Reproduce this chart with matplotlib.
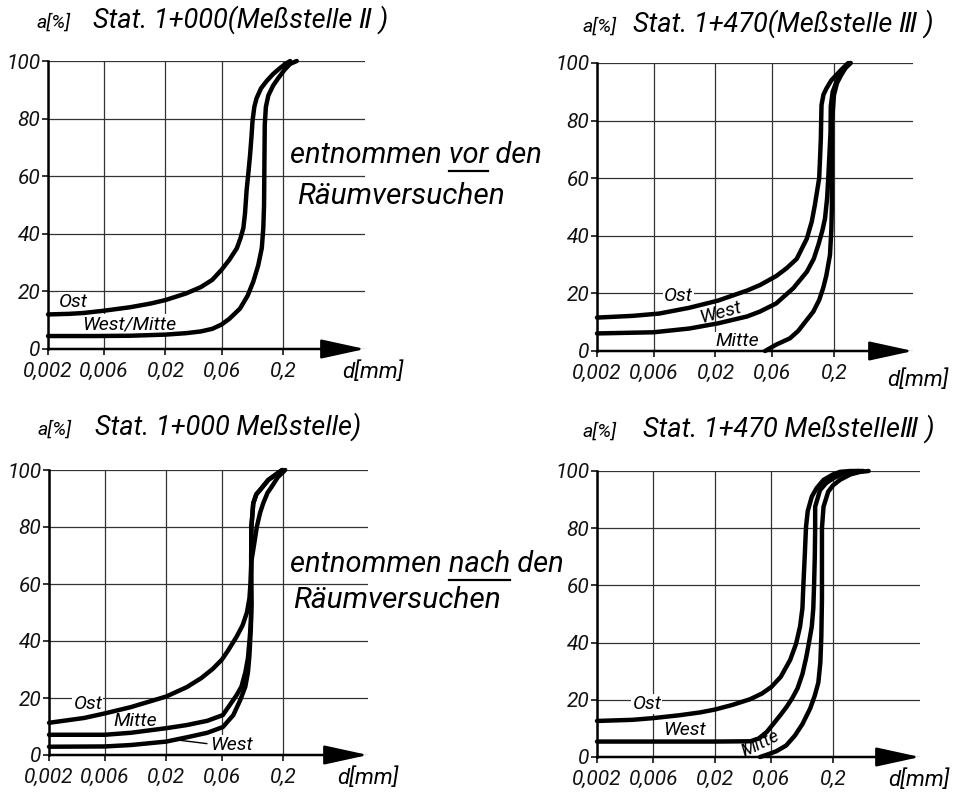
import matplotlib.pyplot as plt
from matplotlib.ticker import NullLocator
from matplotlib.lines import Line2D

plt.rcParams['font.family'] = ['Roboto', 'DejaVu Sans']
plt.rcParams['font.style'] = 'italic'

xticks = [0.002, 0.006, 0.02, 0.06, 0.2]
xticklabels = ['0,002', '0,006', '0,02', '0,06', '0,2']
yticks = [0, 20, 40, 60, 80, 100]

# oben links: Stat. 1+000, vor den Raeumversuchen
p1_ost_d = [0.002, 0.003, 0.004, 0.006, 0.01, 0.015, 0.02, 0.03, 0.04, 0.05, 0.06, 0.07, 0.081,
            0.087, 0.092, 0.095, 0.098, 0.102, 0.105, 0.108, 0.11, 0.114, 0.119, 0.13, 0.145,
            0.165, 0.188, 0.21, 0.23]
p1_ost_a = [12, 12.2, 12.5, 13.3, 14.5, 15.8, 17, 19.3, 21.5, 24, 27.5, 31, 35,
            38.5, 42, 47, 55, 62, 67.5, 74, 79, 84, 87, 90.5, 93,
            95.5, 97.5, 99, 100]
p1_wm_d = [0.002, 0.005, 0.01, 0.02, 0.03, 0.04, 0.05, 0.06, 0.07, 0.086, 0.1, 0.112, 0.123,
           0.132, 0.136, 0.138, 0.139, 0.14, 0.143, 0.15, 0.165, 0.182, 0.205, 0.23, 0.262]
p1_wm_a = [4.5, 4.5, 4.6, 5, 5.5, 6.1, 7, 8.5, 10.5, 14, 18.5, 23.5, 29,
           35, 42, 50, 65, 78, 84, 88, 91.5, 94, 96.8, 99, 100]

# oben rechts: Stat. 1+470, vor den Raeumversuchen
p2_ost_d = [0.002, 0.004, 0.0067, 0.012, 0.021, 0.037, 0.0475, 0.065, 0.08, 0.097, 0.118, 0.13,
            0.138, 0.15, 0.153, 0.155, 0.156, 0.157, 0.163, 0.173, 0.19, 0.209, 0.235, 0.264]
p2_ost_a = [11.6, 12.2, 13, 15, 17.5, 21, 22.9, 26, 28.8, 32, 39, 45,
            50.7, 60, 68, 74, 80, 85.4, 89, 91.2, 94, 95.8, 98, 100]
p2_west_d = [0.002, 0.006, 0.012, 0.021, 0.037, 0.0475, 0.065, 0.0907, 0.118, 0.135, 0.148, 0.16,
             0.168, 0.175, 0.179, 0.183, 0.187, 0.188, 0.195, 0.21, 0.225, 0.25, 0.274]
p2_west_a = [6.1, 6.5, 7.8, 9.6, 12, 13.7, 16.5, 21.8, 27.5, 32, 37, 42,
             46, 53, 60, 68, 76, 85, 90, 93.5, 95.8, 98.3, 100]
p2_mitte_d = [0.0524, 0.054, 0.065, 0.085, 0.1, 0.118, 0.134, 0.15, 0.162, 0.172, 0.185, 0.19,
              0.192, 0.192, 0.193, 0.2, 0.212, 0.23, 0.25, 0.277]
p2_mitte_a = [0, 0.3, 2.2, 4.4, 7, 10.8, 13.7, 17.7, 21.8, 26, 33.3, 42,
              50, 68, 80, 88.9, 93, 95.8, 98.3, 100]

# unten links: Stat. 1+000, nach den Raeumversuchen
p3_ost_d = [0.002, 0.004, 0.006, 0.01, 0.02, 0.03, 0.04, 0.05, 0.06, 0.068, 0.08, 0.09, 0.098,
            0.103, 0.105, 0.107, 0.111, 0.115, 0.119, 0.127, 0.135, 0.147, 0.16, 0.18, 0.208]
p3_ost_a = [11.3, 13, 14.6, 16.8, 20.5, 23.8, 27, 30.2, 33.5, 36.8, 41.5, 45.5, 50,
            55, 60, 68, 72, 76, 80, 85, 88.3, 92, 94.2, 97.5, 100]
p3_mitte_d = [0.002, 0.006, 0.01, 0.02, 0.03, 0.045, 0.061, 0.08, 0.088, 0.095, 0.1, 0.104,
              0.106, 0.107, 0.1066, 0.1066, 0.107, 0.111, 0.118, 0.127, 0.149, 0.196]
p3_mitte_a = [7.1, 7.1, 7.8, 9.4, 10.5, 12, 14, 21, 24, 29, 34, 42,
              47, 53, 60, 70, 80, 88.3, 91.5, 93, 96.5, 100]
p3_west_d = [0.002, 0.006, 0.01, 0.02, 0.03, 0.045, 0.061, 0.075, 0.086, 0.095, 0.1, 0.103,
             0.106, 0.107, 0.1066, 0.1066, 0.107, 0.111, 0.118, 0.127, 0.149, 0.196]
p3_west_a = [2.9, 3, 3.5, 4.7, 6.2, 7.8, 9.8, 14, 19.3, 24, 29, 35,
             45, 53, 60, 70, 80, 88.3, 91.5, 93, 96.5, 100]

# unten rechts: Stat. 1+470, nach den Raeumversuchen
p4_ost_d = [0.002, 0.004, 0.006, 0.01, 0.015, 0.02, 0.028, 0.0396, 0.05, 0.06, 0.072, 0.0865,
            0.097, 0.105, 0.11, 0.112, 0.115, 0.118, 0.122, 0.132, 0.145, 0.166, 0.2, 0.229,
            0.28, 0.361]
p4_ost_a = [12.6, 13, 13.6, 14.6, 15.6, 16.6, 18.2, 20.2, 22.2, 24.5, 28, 33.9,
            39.5, 45.6, 52, 60, 70, 80.5, 86, 91, 94, 96.9, 98.8, 99.7,
            100, 100]
p4_west_d = [0.002, 0.006, 0.02, 0.04, 0.047, 0.055, 0.063, 0.072, 0.081, 0.09, 0.1, 0.11,
             0.118, 0.125, 0.132, 0.136, 0.138, 0.14, 0.141, 0.141, 0.155, 0.175, 0.2, 0.24,
             0.279, 0.33]
p4_west_a = [5.4, 5.4, 5.4, 5.5, 6.5, 8.8, 11.8, 14.8, 17.6, 20.5, 24, 29,
             34.5, 40, 45.6, 52, 60, 70, 80, 87.5, 93.3, 95.8, 97.4, 99,
             99.7, 100]
p4_mitte_d = [0.0481, 0.055, 0.066, 0.08, 0.095, 0.11, 0.128, 0.14, 0.15, 0.156, 0.159,
              0.161, 0.161, 0.166, 0.182, 0.2, 0.229, 0.28, 0.34, 0.4]
p4_mitte_a = [0, 0.8, 2, 4, 7.5, 11.5, 17, 21.5, 26, 33, 42,
              55, 80, 87.5, 92.8, 95, 96.9, 98.8, 99.7, 100]

W, H = 962, 794
fig = plt.figure(figsize=(W / 100, H / 100), dpi=100)
fig.patch.set_facecolor('white')


def ft(x, y, s, **kw):
    return fig.text(x / W, 1 - y / H, s, va='baseline', **kw)


def make_axes(l, t, r, b, xmax, dlab):
    ax = fig.add_axes([l / W, 1 - b / H, (r - l) / W, (b - t) / H])
    ax.set_xscale('log')
    ax.set_xlim(0.002, xmax)
    ax.set_ylim(0, 100)
    ax.set_xticks(xticks)
    ax.set_xticklabels(xticklabels)
    ax.xaxis.set_minor_locator(NullLocator())
    ax.set_yticks(yticks)
    ax.grid(True, color='#333333', lw=0.9)
    ax.set_axisbelow(True)
    for s in ['top', 'right', 'bottom']:
        ax.spines[s].set_visible(False)
    ax.spines['left'].set_linewidth(1.8)
    ax.tick_params(direction='out', length=4, width=1.2, labelsize=15, colors='#111111')
    ax.tick_params(axis='x', pad=5)
    ax.tick_params(axis='y', pad=1.5)
    ax.annotate('', xy=(1, 0), xytext=(0, 0), xycoords='axes fraction',
                arrowprops=dict(arrowstyle='-|>,head_length=1.6,head_width=0.35', lw=1.8,
                                color='k', shrinkA=0, shrinkB=0, mutation_scale=17))
    ax.text(dlab[0], dlab[1], 'd[mm]', transform=ax.transAxes, fontsize=16,
            ha='center', va='center')
    return ax


def curve(ax, d, a):
    ax.plot(d, a, color='k', lw=3.2, solid_joinstyle='round', solid_capstyle='round',
            clip_on=False, zorder=3)


def label(ax, x, y, s, rot=0, ha='center', box=True, size=14):
    kw = {}
    if box:
        # weisser Hintergrund unterbricht nur das Gitter, Kurven liegen darueber
        kw['bbox'] = dict(boxstyle='square,pad=0.05', fc='white', ec='none')
    ax.text(x, y, s, fontsize=size, ha=ha, va='center', rotation=rot, zorder=2.5,
            rotation_mode='anchor', **kw)


ax1 = make_axes(48, 61, 365, 349, 0.998, (1.025, -0.08))
curve(ax1, p1_ost_d, p1_ost_a)
curve(ax1, p1_wm_d, p1_wm_a)
label(ax1, 0.0025, 16.3, 'Ost', ha='left')
label(ax1, 0.0039, 8.6, 'West/Mitte', ha='left')

ax2 = make_axes(597, 63, 913, 351, 0.929, (1.016, -0.10))
curve(ax2, p2_ost_d, p2_ost_a)
curve(ax2, p2_west_d, p2_west_a)
curve(ax2, p2_mitte_d, p2_mitte_a)
label(ax2, 0.0097, 19, 'Ost')
label(ax2, 0.0222, 13.4, 'West', rot=15, box=False)
label(ax2, 0.0304, 3.3, 'Mitte')

ax3 = make_axes(49, 470, 368, 755, 1.06, (1.0, -0.081))
curve(ax3, p3_ost_d, p3_ost_a)
curve(ax3, p3_mitte_d, p3_mitte_a)
curve(ax3, p3_west_d, p3_west_a)
ax3.plot([0.0235, 0.0445], [5.4, 4.0], color='k', lw=1.0, zorder=3)
label(ax3, 0.0043, 17.9, 'Ost')
label(ax3, 0.0109, 11.8, 'Mitte')
label(ax3, 0.073, 3.5, 'West')

ax4 = make_axes(597, 471, 920, 757, 1.09, (0.997, -0.08))
curve(ax4, p4_ost_d, p4_ost_a)
curve(ax4, p4_west_d, p4_west_a)
curve(ax4, p4_mitte_d, p4_mitte_a)
ax4.plot([0.036, 0.036], [0, 5.2], color='k', lw=1.0, zorder=3)
label(ax4, 0.0053, 18.4, 'Ost')
label(ax4, 0.0111, 9.6, 'West')
label(ax4, 0.0485, 4.6, 'Mitte', rot=26, box=False, size=13)

# Titel
titles = [(37, 93, 28, 'Stat. 1+000(Meßstelle Ⅱ )'),
          (583, 633, 32, 'Stat. 1+470(Meßstelle Ⅲ )'),
          (38, 95, 435, 'Stat. 1+000 Meßstelle)'),
          (583, 643, 437, 'Stat. 1+470 MeßstelleⅢ )')]
for xa, xs, yb, s in titles:
    ft(xa, yb, 'a[%]', fontsize=14)
    ft(xs, yb, s, fontsize=19.5)

renderer = fig.canvas.get_renderer()


def width(s, size):
    t = fig.text(0, 0, s, fontsize=size)
    w = t.get_window_extent(renderer).width
    t.remove()
    return w


def underlined(x, y, before, word, after, size, uy):
    ft(x, y, before + word + after, fontsize=size)
    x1 = x + width(before + word, size)
    x0 = x1 - width(word, size)
    fig.add_artist(Line2D([x0 / W, x1 / W], [1 - uy / H, 1 - uy / H], color='k', lw=1.6,
                          transform=fig.transFigure))


underlined(290, 163, 'entnommen ', 'vor', ' den', 21, 171)
ft(297, 204, 'Räumversuchen', fontsize=21.5)
underlined(290, 572, 'entnommen ', 'nach', ' den', 21, 580)
ft(293, 608, 'Räumversuchen', fontsize=21.5)

fig.savefig('out.png', dpi=100, facecolor='white')
